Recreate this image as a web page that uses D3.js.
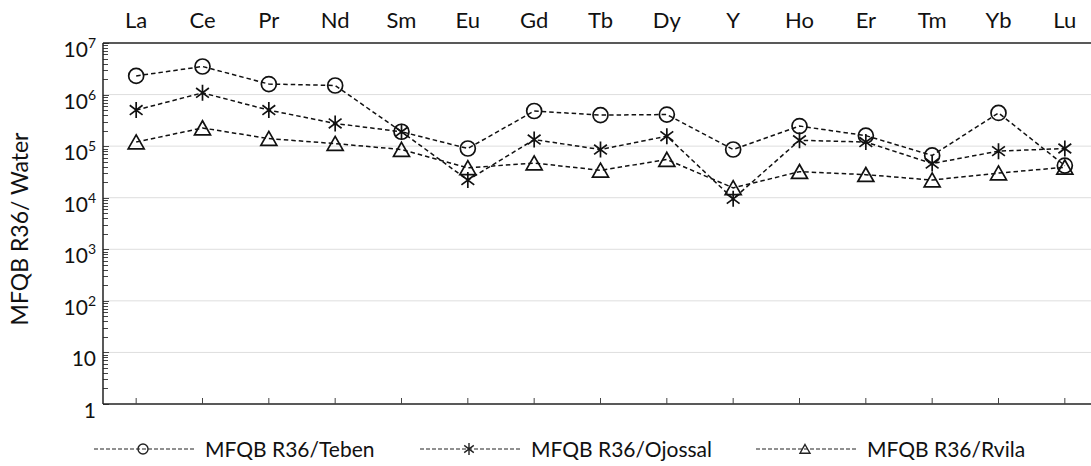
<!DOCTYPE html>
<html>
<head>
<meta charset="utf-8">
<script src="https://cdn.jsdelivr.net/npm/d3@7"></script>
<style>
  body { margin: 0; background: #fff; }
  text { font-family: Lato, "Open Sans", sans-serif; fill: #111; }
</style>
</head>
<body>
<div id="chart"></div>
<script>
const elements = ["La", "Ce", "Pr", "Nd", "Sm", "Eu", "Gd", "Tb", "Dy", "Y", "Ho", "Er", "Tm", "Yb", "Lu"];
const teben   = [2.3e6, 3.5e6, 1.6e6, 1.5e6, 1.9e5, 9.0e4, 4.8e5, 4.0e5, 4.1e5, 8.6e4, 2.45e5, 1.6e5, 6.6e4, 4.4e5, 4.2e4];
const ojossal = [5.0e5, 1.08e6, 5.0e5, 2.75e5, 1.9e5, 2.2e4, 1.34e5, 8.6e4, 1.56e5, 9.5e3, 1.3e5, 1.2e5, 4.6e4, 8.0e4, 9.0e4];
const rvila   = [1.2e5, 2.25e5, 1.4e5, 1.12e5, 8.6e4, 3.8e4, 4.7e4, 3.4e4, 5.5e4, 1.55e4, 3.2e4, 2.8e4, 2.2e4, 3.0e4, 3.9e4];
const seriesNames = ["MFQB R36/Teben", "MFQB R36/Ojossal", "MFQB R36/Rvila"];
const yTicks = [1, 10, 100, 1e3, 1e4, 1e5, 1e6, 1e7];
const yTickExp = ["", "", "2", "3", "4", "5", "6", "7"];

(function () {
const width = 1091, height = 466;
const svg = d3.select("#chart").append("svg")
  .attr("width", width).attr("height", height);

const pLeft = 103, pRight = 1098, pTop = 43, pBottom = 404;
const x = d3.scalePoint().domain(elements).range([pLeft, pRight]).padding(0.5);
const y = d3.scaleLog().domain([1, 1e7]).range([pBottom, pTop]);

// grid lines
svg.append("g").selectAll("line")
  .data(yTicks.slice(1, -1))
  .enter().append("line")
  .attr("x1", pLeft).attr("x2", width)
  .attr("y1", d => y(d)).attr("y2", d => y(d))
  .attr("stroke", "#dedede").attr("stroke-width", 1);

// minor ticks on left axis
const minor = [];
for (let e = 0; e < 7; e++) for (let m = 2; m <= 9; m++) minor.push(m * Math.pow(10, e));
svg.append("g").selectAll("line")
  .data(minor.concat(yTicks))
  .enter().append("line")
  .attr("x1", pLeft).attr("x2", d => pLeft + (yTicks.includes(d) ? 6 : 5))
  .attr("y1", d => Math.round(y(d)) + 0.5).attr("y2", d => Math.round(y(d)) + 0.5)
  .attr("stroke", "#444").attr("stroke-width", 1);

// frame
svg.append("line").attr("x1", pLeft).attr("x2", width).attr("y1", pTop).attr("y2", pTop)
  .attr("stroke", "#222").attr("stroke-width", 1.5);
svg.append("line").attr("x1", pLeft).attr("x2", width).attr("y1", pBottom).attr("y2", pBottom)
  .attr("stroke", "#222").attr("stroke-width", 1.5);
svg.append("line").attr("x1", pLeft).attr("x2", pLeft).attr("y1", pTop).attr("y2", pBottom)
  .attr("stroke", "#222").attr("stroke-width", 1.5);

// bottom ticks
svg.append("g").selectAll("line")
  .data(elements)
  .enter().append("line")
  .attr("x1", d => x(d)).attr("x2", d => x(d))
  .attr("y1", pBottom).attr("y2", pBottom - 6)
  .attr("stroke", "#444").attr("stroke-width", 1);

// category labels on top
svg.append("g").selectAll("text")
  .data(elements)
  .enter().append("text")
  .attr("x", d => x(d)).attr("y", 28)
  .attr("text-anchor", "middle")
  .style("font-size", "22px")
  .text(d => d);

// y tick labels
const yl = svg.append("g").selectAll("text")
  .data(yTicks)
  .enter().append("text")
  .attr("x", 96).attr("y", d => y(d) + 14)
  .attr("text-anchor", "end")
  .style("font-size", "21px");
yl.append("tspan").text((d, i) => i === 0 ? "1" : "10");
yl.append("tspan")
  .attr("dy", (d, i) => yTickExp[i] ? -9 : 0)
  .style("font-size", "14px")
  .text((d, i) => yTickExp[i]);

// y title
svg.append("text")
  .attr("transform", "translate(28,229) rotate(-90)")
  .attr("text-anchor", "middle")
  .style("font-size", "23px")
  .text("MFQB R36/ Water");

// markers
function marker(g, type, s) {
  if (type === 0) {
    g.append("circle").attr("r", s).attr("fill", "none");
  } else if (type === 1) {
    const a = s * 0.8;
    g.append("path").attr("d",
      `M0,${-s}L0,${s}M${-a},${-a * 0.75}L${a},${a * 0.75}M${-a},${a * 0.75}L${a},${-a * 0.75}`)
      .attr("fill", "none");
  } else {
    g.append("path").attr("d", `M0,${-s * 0.9}L${s},${s * 0.85}L${-s},${s * 0.85}Z`)
      .attr("fill", "none");
  }
}

const series = [teben, ojossal, rvila];
const line = d3.line().x((d, i) => x(elements[i])).y(d => y(d));

series.forEach(vals => {
  svg.append("path")
    .datum(vals)
    .attr("d", line)
    .attr("fill", "none")
    .attr("stroke", "#111")
    .attr("stroke-width", 1.5)
    .attr("stroke-dasharray", "4.5,3");
});

series.forEach((vals, k) => {
  svg.append("g").selectAll("g")
    .data(vals)
    .enter().append("g")
    .attr("transform", (d, i) => `translate(${x(elements[i])},${y(d)})`)
    .attr("stroke", "#111").attr("stroke-width", 1.7)
    .each(function () { marker(d3.select(this), k, k === 0 ? 7.5 : 8); });
});

// legend
const legX = [94, 420, 756];
seriesNames.forEach((name, k) => {
  const g = svg.append("g").attr("transform", `translate(${legX[k]},449)`);
  g.append("line").attr("x1", 0).attr("x2", 101).attr("y1", 0).attr("y2", 0)
    .attr("stroke", "#222").attr("stroke-width", 1.2).attr("stroke-dasharray", "4,2");
  const m = g.append("g").attr("transform", "translate(49,0)")
    .attr("stroke", "#222").attr("stroke-width", 1.4);
  marker(m, k, k === 1 ? 6 : 5);
  g.append("text").attr("x", 111).attr("y", 7.5)
    .style("font-size", "21px")
    .text(name);
});
})();
</script>
</body>
</html>
